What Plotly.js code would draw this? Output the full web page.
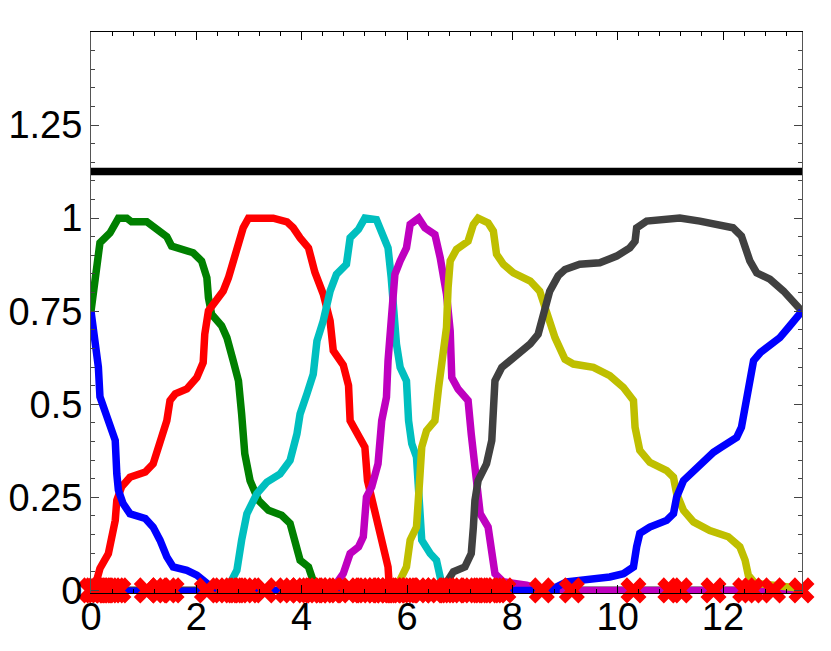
<!DOCTYPE html>
<html>
<head>
<meta charset="utf-8">
<script src="https://cdn.plot.ly/plotly-3.0.1.min.js"></script>
<style>
  html, body { margin: 0; padding: 0; background: #fff; }
  #chart { width: 831px; height: 651px; }
</style>
</head>
<body>
<div id="chart"></div>
<script>
// curves (x in time units, y in 0..1)
const blueX = [0, 0.08, 0.14, 0.17, 0.27, 0.39, 0.46, 0.49, 0.52, 0.61,
    0.74, 1.03, 1.18, 1.31, 1.44, 1.56, 1.82, 2.01, 2.20, 2.25,
    8.71, 9.03, 9.47, 9.85, 10.11, 10.30, 10.36, 10.42, 10.61, 10.93,
    11.06, 11.12, 11.25, 11.50, 11.82, 11.97, 12.26, 12.35, 12.42, 12.48,
    12.58, 12.71, 12.89, 13.08, 13.27, 13.5];
const blueY = [0.75, 0.68, 0.60, 0.52, 0.483, 0.438, 0.403, 0.313, 0.269, 0.233,
    0.206, 0.193, 0.17, 0.135, 0.09, 0.063, 0.054, 0.041, 0.019, 0,
    0, 0.023, 0.028, 0.036, 0.045, 0.063, 0.117, 0.153, 0.17, 0.188,
    0.206, 0.251, 0.295, 0.331, 0.371, 0.385, 0.411, 0.438, 0.492, 0.563,
    0.617, 0.639, 0.657, 0.679, 0.711, 0.75];

const greenX = [0, 0.11, 0.17, 0.36, 0.52, 0.68, 0.77, 1.06, 1.28, 1.44,
    1.53, 1.75, 1.94, 2.10, 2.20, 2.23, 2.29, 2.48, 2.58, 2.70,
    2.80, 2.86, 2.92, 3.02, 3.18, 3.37, 3.62, 3.78, 3.87, 3.97,
    4.13, 4.22, 4.28, 13.5];
const greenY = [0.75, 0.894, 0.934, 0.96, 1.0, 1.0, 0.99, 0.99, 0.97, 0.95,
    0.925, 0.916, 0.907, 0.885, 0.84, 0.786, 0.742, 0.711, 0.679, 0.617,
    0.563, 0.474, 0.367, 0.295, 0.242, 0.215, 0.202, 0.18, 0.135, 0.081,
    0.063, 0.028, 0, 0];

const redX = [0, 0.09, 0.11, 0.17, 0.33, 0.39, 0.46, 0.49, 0.58, 0.74,
    1.03, 1.18, 1.31, 1.44, 1.50, 1.60, 1.82, 2.01, 2.13, 2.16,
    2.23, 2.39, 2.51, 2.61, 2.70, 2.83, 2.89, 2.99, 3.46, 3.72,
    3.84, 3.97, 4.13, 4.25, 4.41, 4.54, 4.60, 4.79, 4.89, 4.92,
    5.06, 5.20, 5.25, 5.39, 5.49, 5.58, 5.64, 5.66, 5.70, 13.5];
const redY = [0, 0, 0.028, 0.059, 0.099, 0.144, 0.188, 0.242, 0.278, 0.304,
    0.318, 0.34, 0.394, 0.456, 0.51, 0.528, 0.541, 0.572, 0.612, 0.688,
    0.751, 0.782, 0.804, 0.84, 0.885, 0.938, 0.974, 1.0, 1.0, 0.99,
    0.974, 0.947, 0.92, 0.855, 0.796, 0.724, 0.644, 0.605, 0.55, 0.456,
    0.42, 0.385, 0.295, 0.215, 0.161, 0.108, 0.063, 0.019, 0, 0];

const cyanX = [0, 2.60, 2.64, 2.77, 2.86, 2.96, 3.15, 3.34, 3.59, 3.78,
    3.91, 3.97, 4.10, 4.22, 4.29, 4.41, 4.54, 4.66, 4.85, 4.92,
    5.08, 5.20, 5.42, 5.52, 5.64, 5.70, 5.73, 5.80, 5.87, 5.99,
    6.03, 6.09, 6.18, 6.22, 6.28, 6.44, 6.56, 6.63, 6.69, 13.5];
const cyanY = [0, 0, 0.019, 0.054, 0.135, 0.206, 0.26, 0.291, 0.313, 0.349,
    0.42, 0.474, 0.528, 0.581, 0.67, 0.724, 0.804, 0.849, 0.876, 0.947,
    0.97, 1.0, 0.996, 0.965, 0.92, 0.84, 0.76, 0.662, 0.599, 0.563,
    0.456, 0.394, 0.358, 0.242, 0.135, 0.099, 0.081, 0.036, 0, 0];

const magentaX = [0, 4.60, 4.66, 4.79, 4.92, 5.08, 5.17, 5.23, 5.33, 5.45,
    5.52, 5.61, 5.64, 5.70, 5.77, 5.87, 5.99, 6.06, 6.22, 6.34,
    6.53, 6.63, 6.75, 6.82, 6.85, 6.97, 7.16, 7.22, 7.29, 7.39,
    7.54, 7.61, 7.67, 7.83, 8.27, 8.60, 13.5];
const magentaY = [0, 0, 0.019, 0.045, 0.099, 0.117, 0.144, 0.251, 0.278, 0.34,
    0.456, 0.519, 0.617, 0.751, 0.849, 0.885, 0.92, 0.983, 1.0, 0.974,
    0.956, 0.894, 0.796, 0.697, 0.572, 0.541, 0.51, 0.42, 0.313, 0.206,
    0.17, 0.117, 0.045, 0.023, 0.014, 0, 0];

const yellowX = [0, 5.83, 5.87, 5.99, 6.06, 6.18, 6.24, 6.28, 6.37, 6.53,
    6.60, 6.69, 6.75, 6.78, 6.82, 6.94, 7.16, 7.26, 7.35, 7.54,
    7.64, 7.70, 7.83, 8.02, 8.34, 8.52, 8.65, 8.81, 9.00, 9.16,
    9.54, 9.85, 10.11, 10.30, 10.33, 10.42, 10.61, 10.93, 11.06, 11.12,
    11.25, 11.44, 11.75, 12.10, 12.32, 12.42, 12.48, 12.61, 12.96, 13.5];
const yellowY = [0, 0, 0.028, 0.063, 0.135, 0.17, 0.295, 0.385, 0.429, 0.456,
    0.545, 0.653, 0.706, 0.813, 0.885, 0.916, 0.938, 0.983, 1.0, 0.987,
    0.965, 0.903, 0.876, 0.853, 0.831, 0.804, 0.742, 0.679, 0.621, 0.608,
    0.599, 0.577, 0.545, 0.51, 0.438, 0.376, 0.344, 0.322, 0.304, 0.26,
    0.215, 0.184, 0.161, 0.144, 0.117, 0.081, 0.041, 0.019, 0.014, 0.005];

const grayX = [0, 6.72, 6.78, 6.88, 7.10, 7.22, 7.26, 7.29, 7.35, 7.51,
    7.61, 7.64, 7.67, 7.80, 8.02, 8.34, 8.49, 8.59, 8.71, 8.87,
    9.00, 9.28, 9.66, 9.98, 10.23, 10.33, 10.36, 10.55, 10.87, 11.18,
    11.56, 11.94, 12.19, 12.35, 12.45, 12.51, 12.64, 12.89, 13.15, 13.34,
    13.5];
const grayY = [0, 0, 0.028, 0.05, 0.063, 0.099, 0.17, 0.242, 0.295, 0.34,
    0.403, 0.492, 0.563, 0.599, 0.626, 0.662, 0.688, 0.751, 0.804, 0.845,
    0.862, 0.876, 0.88, 0.898, 0.92, 0.938, 0.974, 0.992, 0.996, 1.0,
    0.992, 0.983, 0.974, 0.952, 0.912, 0.885, 0.853, 0.836, 0.804, 0.778,
    0.75];

// blue baseline running under the crosses
const baseX = [0, 8.9];
const baseY = [0, 0];

// horizontal reference level
const levelX = [0, 13.5];
const levelY = [1.125, 1.125];

// red crosses along the baseline
const crossX = [0, 0.06, 0.11, 0.17, 0.24, 0.33, 0.39, 0.46, 0.52,
    1.06, 1.31, 1.44, 1.53,
    2.20, 2.51, 2.61, 2.70, 2.80, 2.89, 2.99, 3.30,
    3.72, 3.84, 3.97, 4.16, 4.25, 4.32, 4.41, 4.47, 4.57, 4.85,
    4.95, 5.17, 5.25, 5.33, 5.42, 5.52, 5.58, 5.66, 5.73, 5.80,
    5.87, 5.99, 6.06, 6.18, 6.28, 6.53, 6.63, 6.75, 6.82, 6.94,
    7.16, 7.26, 7.35, 7.45, 7.54, 7.64, 7.70, 7.83,
    8.56, 9.13, 10.30, 11.00, 11.18, 11.82, 12.42, 12.55, 12.95, 13.49];
const crossY = [0, 0, 0, 0, 0, 0, 0, 0, 0,
    0, 0, 0, 0,
    0, 0, 0, 0, 0, 0, 0, 0,
    0, 0, 0, 0, 0, 0, 0, 0, 0, 0,
    0, 0, 0, 0, 0, 0, 0, 0, 0, 0,
    0, 0, 0, 0, 0, 0, 0, 0, 0, 0,
    0, 0, 0, 0, 0, 0, 0, 0,
    0, 0, 0, 0, 0, 0, 0, 0, 0, 0];

const xTicks = [0, 2, 4, 6, 8, 10, 12];
const yTicks = [0, 0.25, 0.5, 0.75, 1, 1.25];

function curve(x, y, color, width) {
    return {
        x: x,
        y: y,
        mode: 'lines',
        line: { color: color, width: width, shape: 'linear' },
        hoverinfo: 'skip'
    };
}

const traces = [
    curve(greenX, greenY, '#008000', 7.5),
    curve(redX, redY, '#ff0000', 7.5),
    curve(cyanX, cyanY, '#00bfbf', 7.5),
    curve(magentaX, magentaY, '#bf00bf', 7.5),
    curve(yellowX, yellowY, '#bfbf00', 7.5),
    curve(grayX, grayY, '#404040', 7.5),
    curve(blueX, blueY, '#0000ff', 7.5),
    curve(baseX, baseY, '#0000ff', 6),
    curve(levelX, levelY, '#000000', 7.5),
    {
        x: crossX,
        y: crossY,
        mode: 'markers',
        marker: { symbol: 'x', size: 23, color: '#ff0000', line: { width: 0 } },
        cliponaxis: false,
        hoverinfo: 'skip'
    }
];

const tickFont = { family: 'Liberation Sans, Arial, sans-serif', size: 38, color: '#000' };

const layout = {
    width: 831,
    height: 651,
    margin: { l: 91, r: 29, t: 32, b: 58 },
    paper_bgcolor: '#fff',
    plot_bgcolor: '#fff',
    showlegend: false,
    xaxis: {
        range: [0, 13.5],
        tickvals: xTicks,
        ticks: 'inside',
        ticklen: 8,
        tickcolor: '#000',
        showline: true,
        linecolor: '#000',
        linewidth: 1,
        mirror: 'ticks',
        showgrid: false,
        zeroline: false,
        tickfont: tickFont,
        ticklabelstandoff: -10,
        minor: { dtick: 0.4, tick0: 0, ticks: 'inside', ticklen: 4, tickcolor: '#000', showgrid: false }
    },
    yaxis: {
        range: [-0.007, 1.5],
        tickvals: yTicks,
        ticks: 'inside',
        ticklen: 8,
        tickcolor: '#444',
        showline: true,
        linecolor: '#555',
        linewidth: 1,
        mirror: 'ticks',
        showgrid: false,
        zeroline: false,
        tickfont: tickFont,
        minor: { dtick: 0.05, tick0: 0, ticks: 'inside', ticklen: 4, tickcolor: '#444', showgrid: false }
    }
};

Plotly.newPlot('chart', traces, layout, { displayModeBar: false, staticPlot: true });
</script>
</body>
</html>
